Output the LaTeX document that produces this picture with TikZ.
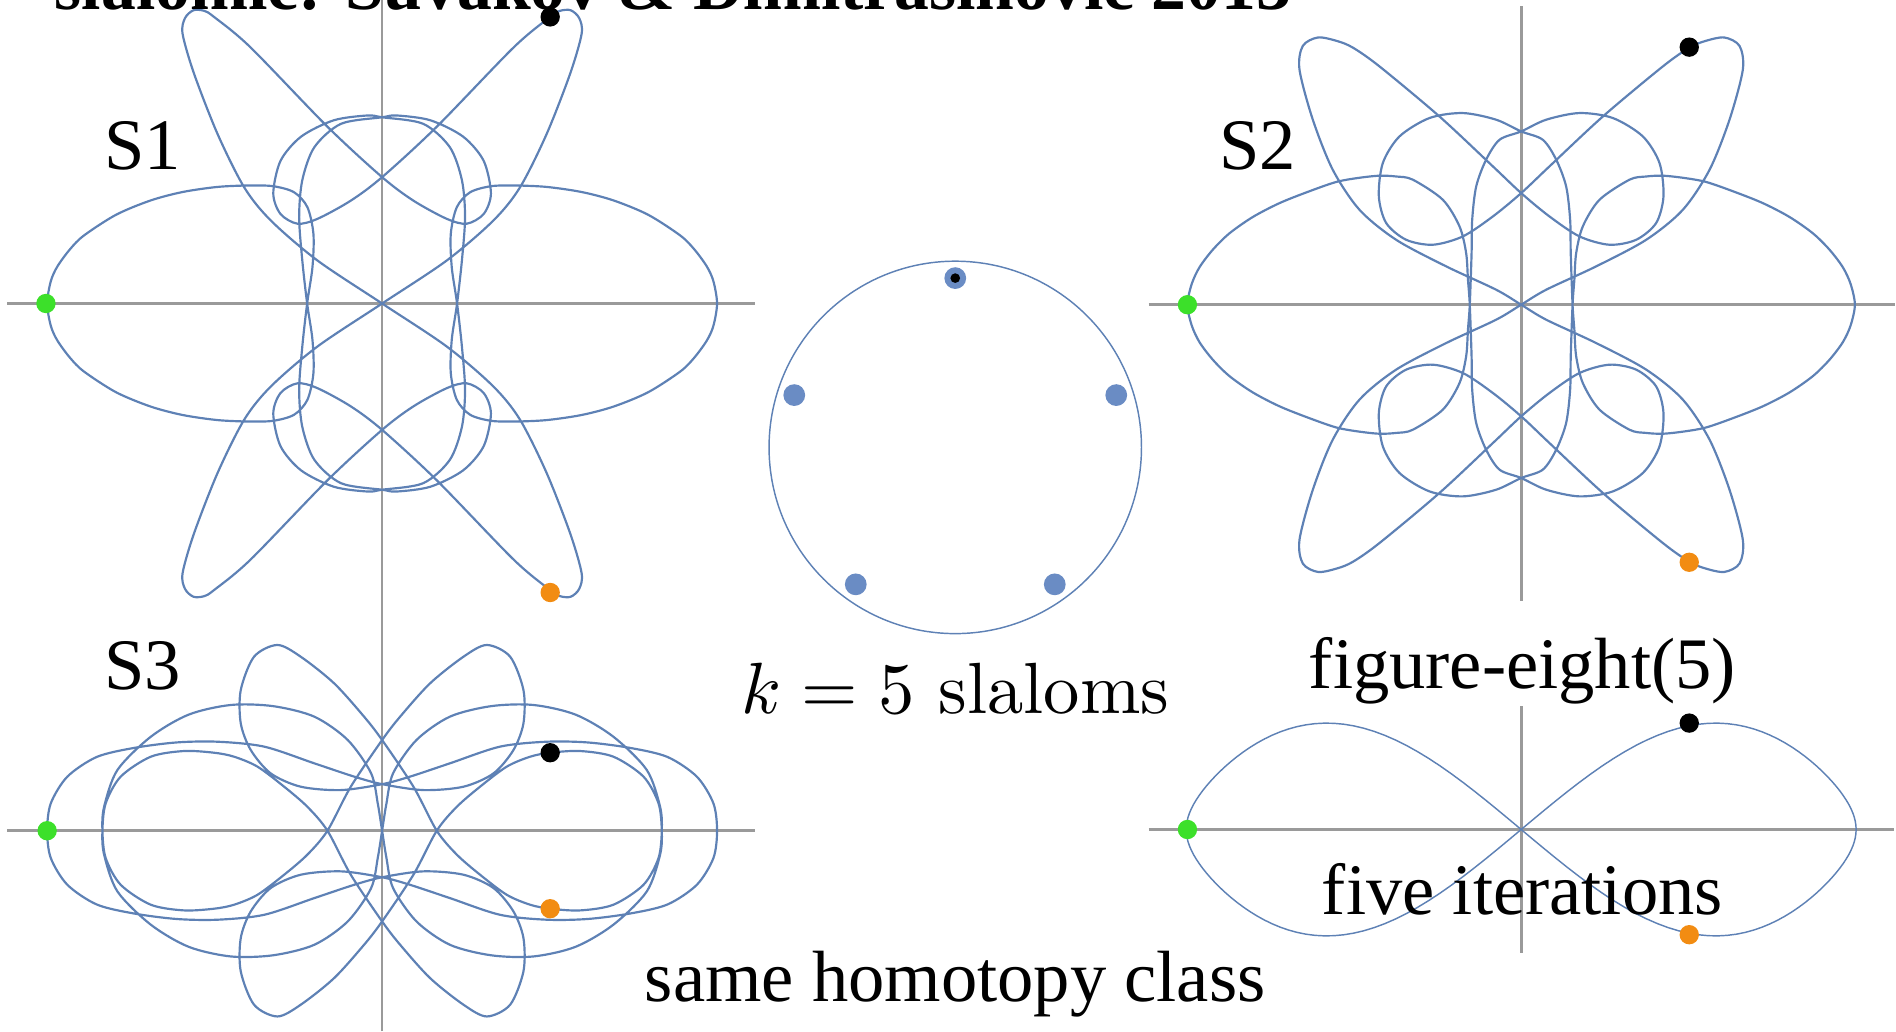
\documentclass[tikz,border=0pt]{standalone}
\usepackage{fontspec}
\newfontfamily\timesfont{Liberation Serif}
\usetikzlibrary{calc}
\definecolor{slomBlue}{HTML}{5E81B5}
\definecolor{beadBlue}{HTML}{6A8CC4}
\definecolor{axisGray}{HTML}{9A9A9A}
\definecolor{bodyGreen}{HTML}{3CE02A}
\definecolor{bodyOrange}{HTML}{F28C12}
\tikzset{
  % orbit of one body
  slom/orbit/.style={draw=slomBlue, line width=0.9pt, line join=round},
  slom/thin/.style={draw=slomBlue, line width=0.6pt},
  slom/axis/.style={draw=axisGray, line width=1.1pt},
  % the three bodies
  slom/body/.style={circle, inner sep=0pt, minimum size=8pt, draw=none},
  slom/bead/.style={circle, inner sep=0pt, minimum size=9pt, fill=beadBlue},
  slom/label/.style={font=\timesfont\fontsize{30}{36}\selectfont, inner sep=0pt},
  slom/title/.style={font=\timesfont\bfseries\fontsize{28.8}{34}\selectfont, inner sep=0pt},
}

\begin{document}
\begin{tikzpicture}[x=0.5pt,y=0.5pt]
  \useasboundingbox (0,0) rectangle (1568,853);
  \clip (0,0) rectangle (1568,853);

  \coordinate (cSone) at (316,602);
  \coordinate (cStwo) at (1258,601);
  \coordinate (cSthree) at (316,166);
  \coordinate (cEight) at (1258,167);
  \coordinate (cRing) at (790,483);

  % axes
  \draw[slom/axis] (316,0) -- (316,853);
  \draw[slom/axis] (6,602) -- (624,602);
  \draw[slom/axis] (6,166) -- (624,166);
  \draw[slom/axis] (1258,356) -- (1258,848);
  \draw[slom/axis] (950,601) -- (1567,601);
  \draw[slom/axis] (1258,65) -- (1258,269);
  \draw[slom/axis] (950,167) -- (1566,167);

  % S1
  \begin{scope}[shift={(cSone)}]
    \draw[slom/orbit] plot[smooth cycle] coordinates {(0,0)
      (53.5,35.6) (92,68.6) (114,96) (136,140) (155.5,190) (165,223) (163,236) (156,242.5) (147,242) (139,237) (109,212) (45,146) (0,104.5)
      (-26,85) (-53.5,70) (-70,66) (-84,74) (-90,91) (-84,118) (-67,138) (-40,151.5) (-12,155.5) (0,154)
      (34,148.6) (56,129.3) (66,102) (68.6,71.4) (66,35.6) (62,0)
      (57.6,-30) (56.8,-57.6) (61.8,-79.7) (72.8,-92) (90,-97) (110,-97.6) (136.2,-96.4) (165,-92.2) (191.5,-85.2) (220,-73.4) (246.5,-56.3) (258,-45) (268.5,-30.7) (274,-18.4) (277,0)
      (274,18.4) (268.5,30.7) (258,45) (246.5,56.3) (220,73.4) (191.5,85.2) (165,92.2) (136.2,96.4) (110,97.6) (90,97) (72.8,92) (61.8,79.7) (56.8,57.6) (57.6,30) (62,0)
      (66,-35.6) (68.6,-71.4) (66,-102) (56,-129.3) (34,-148.6) (0,-154)
      (-12,-155.5) (-40,-151.5) (-67,-138) (-84,-118) (-90,-91) (-84,-74) (-70,-66) (-53.5,-70) (-26,-85) (0,-104.5)
      (45,-146) (109,-212) (139,-237) (147,-242) (156,-242.5) (163,-236) (165,-223) (155.5,-190) (136,-140) (114,-96) (92,-68.6) (53.5,-35.6) (0,0)
      (-53.5,35.6) (-92,68.6) (-114,96) (-136,140) (-155.5,190) (-165,223) (-163,236) (-156,242.5) (-147,242) (-139,237) (-109,212) (-45,146) (0,104.5)
      (26,85) (53.5,70) (70,66) (84,74) (90,91) (84,118) (67,138) (40,151.5) (12,155.5) (0,154)
      (-34,148.6) (-56,129.3) (-66,102) (-68.6,71.4) (-66,35.6) (-62,0)
      (-57.6,-30) (-56.8,-57.6) (-61.8,-79.7) (-72.8,-92) (-90,-97) (-110,-97.6) (-136.2,-96.4) (-165,-92.2) (-191.5,-85.2) (-220,-73.4) (-246.5,-56.3) (-258,-45) (-268.5,-30.7) (-274,-18.4) (-277,0)
      (-274,18.4) (-268.5,30.7) (-258,45) (-246.5,56.3) (-220,73.4) (-191.5,85.2) (-165,92.2) (-136.2,96.4) (-110,97.6) (-90,97) (-72.8,92) (-61.8,79.7) (-56.8,57.6) (-57.6,30) (-62,0)
      (-66,-35.6) (-68.6,-71.4) (-66,-102) (-56,-129.3) (-34,-148.6) (0,-154)
      (12,-155.5) (40,-151.5) (67,-138) (84,-118) (90,-91) (84,-74) (70,-66) (53.5,-70) (26,-85) (0,-104.5)
      (-45,-146) (-109,-212) (-139,-237) (-147,-242) (-156,-242.5) (-163,-236) (-165,-223) (-155.5,-190) (-136,-140) (-114,-96) (-92,-68.6) (-53.5,-35.6)};
  \end{scope}

  % S2
  \begin{scope}[shift={(cStwo)}]
    \draw[slom/orbit] plot[smooth cycle] coordinates {(0,0)
      (20.7,12.4) (62,31.7) (103.4,53.7) (133.7,78.5) (155.8,111.6) (172.3,153) (183.3,194.3) (180.6,214) (168,221) (152,218) (139,212.5) (117.2,197.1) (67.6,155.7) (23.4,114.4) (0,92.3)
      (-23.4,73) (-48.2,56.5) (-73,49.6) (-95.1,53.7) (-111.6,67.5) (-117.7,89.6) (-114.4,117.2) (-100.6,139.2) (-75.8,154.4) (-48.2,158.5) (-20.7,153) (0,143.3)
      (17.9,136.4) (29,119.9) (37.2,97.8) (40.5,70.3) (41,42.7) (42.5,0)
      (44,-20.7) (45.5,-42.7) (51,-64.8) (64.8,-86.8) (89.6,-103.4) (103,-106) (117.2,-106.7) (135,-104.8) (153,-101.5) (176,-93.5) (199.9,-84) (222,-72.5) (241.3,-59) (255,-45.5) (266,-31) (272.5,-17) (276,0)
      (272.5,17) (266,31) (255,45.5) (241.3,59) (222,72.5) (199.9,84) (176,93.5) (153,101.5) (135,104.8) (117.2,106.7) (103,106) (89.6,103.4) (64.8,86.8) (51,64.8) (45.5,42.7) (44,20.7) (42.5,0)
      (41,-42.7) (40.5,-70.3) (37.2,-97.8) (29,-119.9) (17.9,-136.4) (0,-143.3)
      (-20.7,-153) (-48.2,-158.5) (-75.8,-154.4) (-100.6,-139.2) (-114.4,-117.2) (-117.7,-89.6) (-111.6,-67.5) (-95.1,-53.7) (-73,-49.6) (-48.2,-56.5) (-23.4,-73) (0,-92.3)
      (23.4,-114.4) (67.6,-155.7) (117.2,-197.1) (139,-212.5) (152,-218) (168,-221) (180.6,-214) (183.3,-194.3) (172.3,-153) (155.8,-111.6) (133.7,-78.5) (103.4,-53.7) (62,-31.7) (20.7,-12.4) (0,0)
      (-20.7,12.4) (-62,31.7) (-103.4,53.7) (-133.7,78.5) (-155.8,111.6) (-172.3,153) (-183.3,194.3) (-180.6,214) (-168,221) (-152,218) (-139,212.5) (-117.2,197.1) (-67.6,155.7) (-23.4,114.4) (0,92.3)
      (23.4,73) (48.2,56.5) (73,49.6) (95.1,53.7) (111.6,67.5) (117.7,89.6) (114.4,117.2) (100.6,139.2) (75.8,154.4) (48.2,158.5) (20.7,153) (0,143.3)
      (-17.9,136.4) (-29,119.9) (-37.2,97.8) (-40.5,70.3) (-41,42.7) (-42.5,0)
      (-44,-20.7) (-45.5,-42.7) (-51,-64.8) (-64.8,-86.8) (-89.6,-103.4) (-103,-106) (-117.2,-106.7) (-135,-104.8) (-153,-101.5) (-176,-93.5) (-199.9,-84) (-222,-72.5) (-241.3,-59) (-255,-45.5) (-266,-31) (-272.5,-17) (-276,0)
      (-272.5,17) (-266,31) (-255,45.5) (-241.3,59) (-222,72.5) (-199.9,84) (-176,93.5) (-153,101.5) (-135,104.8) (-117.2,106.7) (-103,106) (-89.6,103.4) (-64.8,86.8) (-51,64.8) (-45.5,42.7) (-44,20.7) (-42.5,0)
      (-41,-42.7) (-40.5,-70.3) (-37.2,-97.8) (-29,-119.9) (-17.9,-136.4) (0,-143.3)
      (20.7,-153) (48.2,-158.5) (75.8,-154.4) (100.6,-139.2) (114.4,-117.2) (117.7,-89.6) (111.6,-67.5) (95.1,-53.7) (73,-49.6) (48.2,-56.5) (23.4,-73) (0,-92.3)
      (-23.4,-114.4) (-67.6,-155.7) (-117.2,-197.1) (-139,-212.5) (-152,-218) (-168,-221) (-180.6,-214) (-183.3,-194.3) (-172.3,-153) (-155.8,-111.6) (-133.7,-78.5) (-103.4,-53.7) (-62,-31.7) (-20.7,-12.4)};
  \end{scope}

  % S3
  \begin{scope}[shift={(cSthree)}]
    \draw[slom/orbit] plot[smooth cycle] coordinates {(0,0)
      (3.5,22) (9.1,47.5) (28.4,75) (56,94.3) (90,103) (125,104) (160,96) (191.3,77.7) (218.9,50.2) (229.9,19.8) (231.3,0)
      (228.6,-22.6) (216.2,-44.7) (191.3,-61.2) (163.8,-65.9) (139,-64.5) (122.4,-61.2) (103.1,-53) (81,-36.4) (61.8,-19.8) (45.2,0)
      (25.9,36.4) (0,75)
      (-14.9,94.3) (-39.7,121.9) (-67.3,143.9) (-86.6,153.6) (-105.9,143.9) (-116.9,116.3) (-116.9,88.8) (-108.6,66.7) (-92.1,47.4) (-67.3,36.4) (-34.2,33.6) (0,38.5)
      (23,44.7) (56,55.7) (97.4,69.5) (136,73.6) (170,73) (205,68.5) (236,61) (260.3,44.7) (274,22.6) (277,0)
      (274,-22.6) (260.3,-44.7) (236,-61) (205,-68.5) (170,-73) (136,-73.6) (97.4,-69.5) (56,-55.7) (23,-44.7) (0,-38.5)
      (-34.2,-33.6) (-67.3,-36.4) (-92.1,-47.4) (-108.6,-66.7) (-116.9,-88.8) (-116.9,-116.3) (-105.9,-143.9) (-86.6,-153.6) (-67.3,-143.9) (-39.7,-121.9) (-14.9,-94.3) (0,-75)
      (25.9,-36.4) (45.2,0)
      (61.8,19.8) (81,36.4) (103.1,53) (122.4,61.2) (139,64.5) (163.8,65.9) (191.3,61.2) (216.2,44.7) (228.6,22.6) (231.3,0)
      (229.9,-19.8) (218.9,-50.2) (191.3,-77.7) (160,-96) (125,-104) (90,-103) (56,-94.3) (28.4,-75) (9.1,-47.5) (3.5,-22) (0,0)
      (-3.5,22) (-9.1,47.5) (-28.4,75) (-56,94.3) (-90,103) (-125,104) (-160,96) (-191.3,77.7) (-218.9,50.2) (-229.9,19.8) (-231.3,0)
      (-228.6,-22.6) (-216.2,-44.7) (-191.3,-61.2) (-163.8,-65.9) (-139,-64.5) (-122.4,-61.2) (-103.1,-53) (-81,-36.4) (-61.8,-19.8) (-45.2,0)
      (-25.9,36.4) (0,75)
      (14.9,94.3) (39.7,121.9) (67.3,143.9) (86.6,153.6) (105.9,143.9) (116.9,116.3) (116.9,88.8) (108.6,66.7) (92.1,47.4) (67.3,36.4) (34.2,33.6) (0,38.5)
      (-23,44.7) (-56,55.7) (-97.4,69.5) (-136,73.6) (-170,73) (-205,68.5) (-236,61) (-260.3,44.7) (-274,22.6) (-277,0)
      (-274,-22.6) (-260.3,-44.7) (-236,-61) (-205,-68.5) (-170,-73) (-136,-73.6) (-97.4,-69.5) (-56,-55.7) (-23,-44.7) (0,-38.5)
      (34.2,-33.6) (67.3,-36.4) (92.1,-47.4) (108.6,-66.7) (116.9,-88.8) (116.9,-116.3) (105.9,-143.9) (86.6,-153.6) (67.3,-143.9) (39.7,-121.9) (14.9,-94.3) (0,-75)
      (-25.9,-36.4) (-45.2,0)
      (-61.8,19.8) (-81,36.4) (-103.1,53) (-122.4,61.2) (-139,64.5) (-163.8,65.9) (-191.3,61.2) (-216.2,44.7) (-228.6,22.6) (-231.3,0)
      (-229.9,-19.8) (-218.9,-50.2) (-191.3,-77.7) (-160,-96) (-125,-104) (-90,-103) (-56,-94.3) (-28.4,-75) (-9.1,-47.5) (-3.5,-22)};
  \end{scope}

  % figure-eight
  \begin{scope}[shift={(cEight)}]
    \draw[slom/thin] plot[domain=0:360, samples=181, variable=\t]
      ({277*sin(\t)}, {82*sin(2*\t)*(1+0.414*cos(2*\t))});
  \end{scope}

  % shape circle with five beads
  \draw[slom/thin] (cRing) circle[radius=154];
  \foreach \ang in {90,162,234,306,18}
    \node[slom/bead] (bead\ang) at ($(cRing)+(\ang:140)$) {};
  \node[slom/body, fill=black, minimum size=4pt] (beadCore) at (bead90) {};

  % bodies
  \node[slom/body, fill=bodyGreen]  (sOneG) at ($(cSone)+(-278,0)$) {};
  \node[slom/body, fill=black]      (sOneB) at ($(cSone)+(139,237)$) {};
  \node[slom/body, fill=bodyOrange] (sOneO) at ($(cSone)+(139,-239)$) {};
  \node[slom/body, fill=bodyGreen]  (sTwoG) at ($(cStwo)+(-276,0)$) {};
  \node[slom/body, fill=black]      (sTwoB) at ($(cStwo)+(139,213)$) {};
  \node[slom/body, fill=bodyOrange] (sTwoO) at ($(cStwo)+(139,-213)$) {};
  \node[slom/body, fill=bodyGreen]  (sThreeG) at ($(cSthree)+(-277,0)$) {};
  \node[slom/body, fill=black]      (sThreeB) at ($(cSthree)+(139,64.5)$) {};
  \node[slom/body, fill=bodyOrange] (sThreeO) at ($(cSthree)+(139,-64.5)$) {};
  \node[slom/body, fill=bodyGreen]  (eightG) at ($(cEight)+(-276,0)$) {};
  \node[slom/body, fill=black]      (eightB) at ($(cEight)+(139,88)$) {};
  \node[slom/body, fill=bodyOrange] (eightO) at ($(cEight)+(139,-87)$) {};

  % labels
  \node[slom/title, anchor=base west] (lblTitle) at (45,845) {slalomic: Šuvakov \& Dimitrašinović 2013};
  \node[slom/label, anchor=base west] (lblSone) at (86,713) {S1};
  \node[slom/label, anchor=base west] (lblStwo) at (1008,713) {S2};
  \node[slom/label, anchor=base west] (lblSthree) at (86,283) {S3};
  \node[slom/label, anchor=base] (lblEight) at (1259,284) {figure-eight(5)};
  \node[slom/label, anchor=base] (lblIter) at (1259,97) {five iterations};
  \node[slom/label, anchor=base] (lblHomo) at (790,25) {same homotopy class};
  \node[font=\fontsize{10}{12}\selectfont, inner sep=0pt, anchor=base, scale=3] (lblSlalom) at (790,263) {$k=5$ slaloms};
\end{tikzpicture}
\end{document}
